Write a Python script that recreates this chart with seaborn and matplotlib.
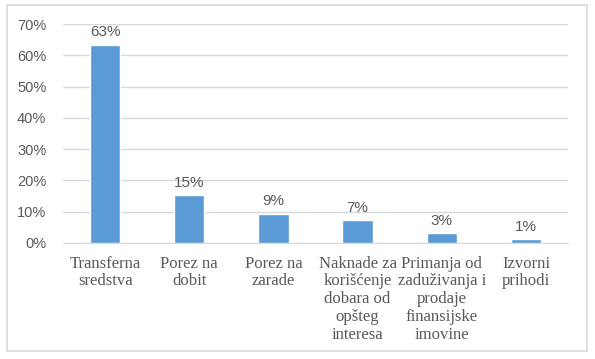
import matplotlib
matplotlib.use("Agg")
import matplotlib.pyplot as plt
import seaborn as sns
import pandas as pd
from matplotlib.patches import Rectangle

categories = ["Transferna\nsredstva", "Porez na\ndobit", "Porez na\nzarade",
              "Naknade za\nkorišćenje\ndobara od\nopšteg\ninteresa",
              "Primanja od\nzaduživanja i\nprodaje\nfinansijske\nimovine",
              "Izvorni\nprihodi"]
shares = [63.3, 15.3, 9.4, 7.3, 3.1, 1.2]
yticks = [0, 10, 20, 30, 40, 50, 60, 70]

df = pd.DataFrame({"kategorija": categories, "udeo": shares})

sns.set_style("white")
plt.rcParams["font.family"] = ["Liberation Sans", "DejaVu Sans"]

W, H = 595, 359
fig = plt.figure(figsize=(W / 100, H / 100), dpi=100)
ax = fig.add_axes([63 / W, 1 - 243 / H, (568 - 63) / W, (243 - 24) / H])

sns.barplot(data=df, x="kategorija", y="udeo", color="#5B9BD5", saturation=1,
            width=0.36, ax=ax, zorder=3)

ax.set_ylim(0, 70)
ax.set_yticks(yticks)
ax.set_yticklabels([f"{t}%" for t in yticks], fontsize=10.5, color="#595959")
ax.yaxis.grid(True, color="#D9D9D9", linewidth=1, zorder=0)
ax.set_axisbelow(True)
for s in ["top", "right", "left"]:
    ax.spines[s].set_visible(False)
ax.spines["bottom"].set_color("#D9D9D9")
ax.tick_params(axis="both", length=0, pad=12)
ax.tick_params(axis="x", pad=9)
ax.set_xlabel("")
ax.set_ylabel("")
for lbl in ax.get_xticklabels():
    lbl.set_fontfamily("Liberation Serif")
    lbl.set_fontsize(12)
    lbl.set_color("#595959")
    lbl.set_verticalalignment("top")
    lbl.set_linespacing(1.15)

for cont in ax.containers:
    ax.bar_label(cont, labels=[f"{round(v)}%" for v in shares], padding=4,
                 fontsize=11, color="#595959")

fig.patches.append(Rectangle((7 / W, 1 - 351 / H), (587 - 7) / W, (351 - 5) / H,
                             transform=fig.transFigure, fill=False,
                             edgecolor="#D9D9D9", linewidth=1.2))

fig.savefig("out.png", dpi=100)
